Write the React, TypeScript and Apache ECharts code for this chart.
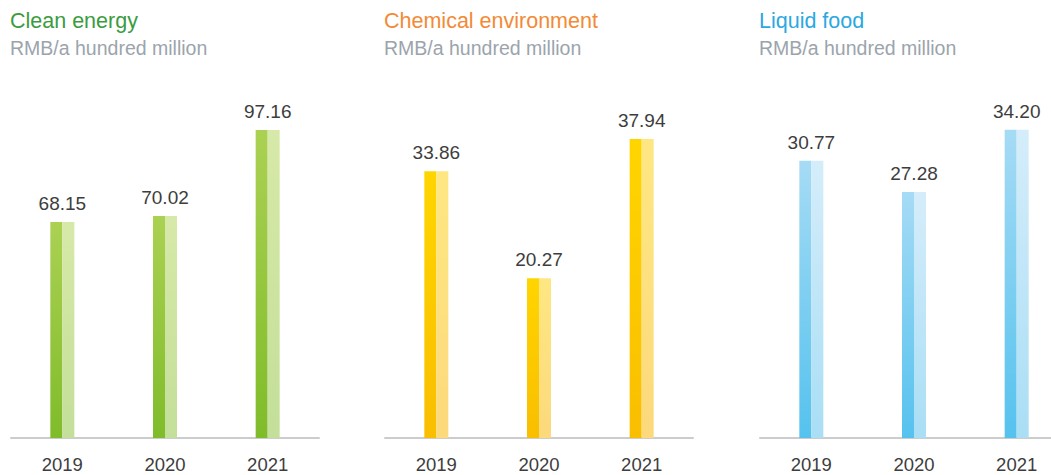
import React, { useEffect, useRef } from "react";
import * as echarts from "echarts";

const years = ["2019", "2020", "2021"];
const cleanEnergy = [68.15, 70.02, 97.16];
const chemicalEnv = [33.86, 20.27, 37.94];
const liquidFood = [30.77, 27.28, 34.2];
const titles = ["Clean energy", "Chemical environment", "Liquid food"];
const unitLabel = "RMB/a hundred million";
const axisMax = [106.6, 42.9, 37.5];

const panelLeft = [11, 385, 760];
const titleColors = ["#3b9c3f", "#f28a36", "#2ca8e1"];
const barColors = [
  { dTop: "#abd153", dBot: "#7fbc2a", lTop: "#d7e9a8", lBot: "#c3df99" },
  { dTop: "#ffd500", dBot: "#f9be00", lTop: "#fee783", lBot: "#fcd97b" },
  { dTop: "#a6dbf5", dBot: "#55c2ee", lTop: "#d5edfa", lBot: "#a9def5" },
];

const grad = (top: string, bot: string) =>
  new echarts.graphic.LinearGradient(0, 0, 0, 1, [
    { offset: 0, color: top },
    { offset: 1, color: bot },
  ]);

export default function App() {
  const ref = useRef<HTMLDivElement>(null);
  useEffect(() => {
    if (!ref.current) return;
    const chart = echarts.init(ref.current, null, { renderer: "svg" });
    const datasets = [cleanEnergy, chemicalEnv, liquidFood];
    const grids = panelLeft.map((l) => ({ left: l, top: 100, width: 308, height: 338 }));
    const xAxes = panelLeft.map((_, i) => ({
      type: "category" as const,
      gridIndex: i,
      data: years,
      axisLine: { lineStyle: { color: "#cccccc", width: 2 } },
      axisTick: { show: false },
      axisLabel: { color: "#3d3d3d", fontSize: 18.5, margin: 17, fontFamily: "Liberation Sans, Arial, sans-serif" },
    }));
    const yAxes = panelLeft.map((_, i) => ({
      type: "value" as const,
      gridIndex: i,
      min: 0,
      max: axisMax[i],
      show: false,
      splitLine: { show: false },
    }));
    const series: any[] = [];
    datasets.forEach((d, i) => {
      const c = barColors[i];
      series.push({
        type: "bar",
        xAxisIndex: i,
        yAxisIndex: i,
        data: d,
        barWidth: 12,
        barGap: "0%",
        itemStyle: { color: grad(c.dTop, c.dBot) },
        label: { show: false },
      });
      series.push({
        type: "bar",
        xAxisIndex: i,
        yAxisIndex: i,
        data: d,
        barWidth: 12,
        barGap: "0%",
        itemStyle: { color: grad(c.lTop, c.lBot) },
        label: {
          show: true,
          position: "top",
          offset: [-6, 0],
          distance: 9,
          color: "#3d3d3d",
          fontSize: 19,
          fontFamily: "Liberation Sans, Arial, sans-serif",
          formatter: (p: any) => p.value.toFixed(2),
        },
      });
    });
    const graphics: any[] = [];
    panelLeft.forEach((l, i) => {
      graphics.push({
        type: "text",
        left: l - 1,
        top: 10,
        style: {
          text: titles[i],
          fill: titleColors[i],
          font: "21.5px 'Liberation Sans', Arial, sans-serif",
        },
      });
      graphics.push({
        type: "text",
        left: l - 1,
        top: 38,
        style: {
          text: unitLabel,
          fill: "#9ba4ac",
          font: "19.5px 'Liberation Sans', Arial, sans-serif",
        },
      });
    });
    chart.setOption({
      animation: false,
      grid: grids,
      xAxis: xAxes,
      yAxis: yAxes,
      series,
      graphic: graphics,
    });
    return () => chart.dispose();
  }, []);
  return (
    <div style={{ position: "fixed", left: 0, top: 0, width: 1051, height: 475, overflow: "hidden", background: "#ffffff" }}>
      <div ref={ref} style={{ width: 1080, height: 475 }} />
    </div>
  );
}
